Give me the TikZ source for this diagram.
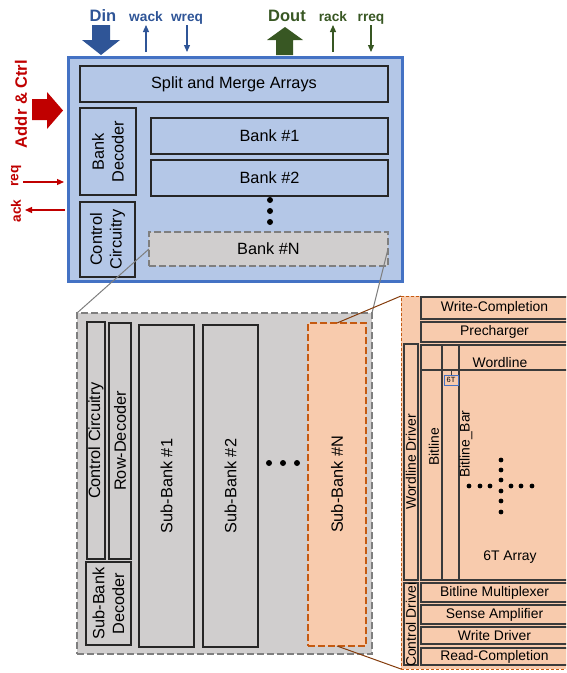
\documentclass[tikz,border=0pt]{standalone}
\usepackage{fontspec}
\setmainfont{Liberation Sans}
\usetikzlibrary{arrows.meta,positioning,calc}
\definecolor{memblue}{HTML}{4472C4}
\definecolor{memfill}{HTML}{B4C7E7}
\definecolor{memgray}{HTML}{D0CECE}
\definecolor{memdash}{HTML}{7F7F7F}
\definecolor{memorange}{HTML}{F8CBAD}
\definecolor{memrust}{HTML}{C55A11}
\definecolor{membrown}{HTML}{843C0C}
\definecolor{memline}{HTML}{262626}
\definecolor{cellline}{HTML}{3A3A3A}
\definecolor{sigblue}{HTML}{2F5597}
\definecolor{siggreen}{HTML}{385723}
\definecolor{sigred}{HTML}{C00000}
\newcommand{\fntbox}{\fontsize{16.3}{19.8}\selectfont}
\newcommand{\fntcell}{\fontsize{13.9}{16}\selectfont}
\newcommand{\fntsig}{\fontsize{13.7}{16}\selectfont\bfseries}
\newcommand{\fntbig}{\fontsize{16.5}{19}\selectfont\bfseries}

\begin{document}
\begin{tikzpicture}[x=1pt,y=-1pt, every node/.style={inner sep=0pt,outer sep=0pt,align=center}]
\tikzset{topbox/.style={draw=memblue,line width=3pt,fill=memfill,anchor=north west},
  tblk/.style={draw=memline,line width=1.5pt,fill=memfill,anchor=north west,font=\fntbox},
  gblk/.style={draw=memline,line width=1.5pt,fill=memgray,anchor=north west,font=\fntbox},
  gdash/.style={draw=memdash,line width=2.2pt,dash pattern=on 7pt off 3pt,fill=memgray,anchor=north west,font=\fntbox},
  odash/.style={draw=memrust,line width=2.5pt,dash pattern=on 7pt off 3pt,fill=memorange,anchor=north west,font=\fntbox},
  panel/.style={draw=memrust,line width=1pt,dash pattern=on 3pt off 2pt,fill=memorange,anchor=north west},
  cblk/.style={draw=cellline,line width=1.3pt,fill=memorange,anchor=north west,font=\fntcell},
  vlabel/.style={rotate=90},
  sigtip/.style={-{Triangle[length=7pt,width=6pt]},line width=1.2pt},
  zoomline/.style={line width=1pt}}
\useasboundingbox (0,0) rectangle (566,673);
\clip (0,0) rectangle (566,673);

% memory top level
\node[topbox,minimum width=334,minimum height=224] (mem) at (68,57) {};
\node[tblk,minimum width=308,minimum height=36] (split) at (80,66) {Split and Merge Arrays};
\node[tblk,minimum width=56,minimum height=87] (bankdec) at (80,108) {};
\node[vlabel,font=\fntbox] (bankdect) at (bankdec.center) {Bank\\Decoder};
\node[tblk,minimum width=55,minimum height=75] (ctrl) at (80,202) {};
\node[vlabel,font=\fntbox] (ctrlt) at (ctrl.center) {Control\\Circuitry};
\node[tblk,minimum width=237,minimum height=36] (bank1) at (151,118) {Bank \#1};
\node[tblk,minimum width=237,minimum height=36] (bank2) at (151,160) {Bank \#2};
\foreach \y in {200,211,222} \fill (270,\y) circle[radius=3pt];
\node[gdash,minimum width=239,minimum height=34] (bankN) at (149,232) {Bank \#N};

% signals
\node[font=\fntbig,text=sigblue,anchor=base] (din) at (103,21) {Din};
\node[font=\fntsig,text=sigblue,anchor=base] (wack) at (146,21) {wack};
\node[font=\fntsig,text=sigblue,anchor=base] (wreq) at (187,21) {wreq};
\node[font=\fntbig,text=siggreen,anchor=base] (dout) at (287,21) {Dout};
\node[font=\fntsig,text=siggreen,anchor=base] (rack) at (333,21) {rack};
\node[font=\fntsig,text=siggreen,anchor=base] (rreq) at (371,21) {rreq};
\node[font=\fntbig,text=sigred,vlabel] (addr) at (21,104) {Addr \& Ctrl};
\node[font=\fntsig,text=sigred,vlabel] (req) at (16,176) {req};
\node[font=\fntsig,text=sigred,vlabel] (ack) at (16,211) {ack};
\fill[sigblue] (92,25) -- (110,25) -- (110,40) -- (120,40) -- (101,55) -- (82,40) -- (92,40) -- cycle;
\fill[siggreen] (276,55) -- (293,55) -- (293,40) -- (303,40) -- (285,27) -- (267,40) -- (276,40) -- cycle;
\fill[sigred] (32,99) -- (47,99) -- (47,92) -- (63,110.5) -- (47,129) -- (47,120) -- (32,120) -- cycle;
\draw[sigtip,sigblue] ([yshift=5pt]mem.north -| wack) -- ([yshift=-4pt]wack.base);
\draw[sigtip,sigblue] ([yshift=-4pt]wreq.base) -- ([yshift=5pt]mem.north -| wreq);
\draw[sigtip,siggreen] ([yshift=5pt]mem.north -| rack) -- ([yshift=-4pt]rack.base);
\draw[sigtip,siggreen] ([yshift=-4pt]rreq.base) -- ([yshift=5pt]mem.north -| rreq);
\coordinate (reqin) at (23,182);
\coordinate (ackout) at (25,210);
\draw[sigtip,sigred] (reqin) -- ([xshift=-4pt]mem.west |- reqin);
\draw[sigtip,sigred] ([xshift=-3pt]mem.west |- ackout) -- (ackout);

% bank level
\node[gdash,minimum width=295,minimum height=341] (lowbox) at (77,313) {};
\node[gblk,minimum width=18,minimum height=237] (lctrl) at (87,322) {};
\node[vlabel,font=\fntbox] (lctrlt) at (lctrl.center) {Control Circuitry};
\node[gblk,minimum width=22,minimum height=236] (rowdec) at (109,323) {};
\node[vlabel,font=\fntbox] (rowdect) at (rowdec.center) {Row-Decoder};
\node[gblk,minimum width=45,minimum height=83] (sbdec) at (86,562) {};
\node[vlabel,font=\fntbox] (sbdect) at (sbdec.center) {Sub-Bank\\Decoder};
\node[gblk,minimum width=55,minimum height=322] (sb1) at (139,325) {};
\node[vlabel,font=\fntbox] (sb1t) at (sb1.center) {Sub-Bank \#1};
\node[gblk,minimum width=55,minimum height=322] (sb2) at (203,325) {};
\node[vlabel,font=\fntbox] (sb2t) at (sb2.center) {Sub-Bank \#2};
\foreach \x in {269,283,297} \fill (\x,463) circle[radius=3pt];
\node[odash,minimum width=58,minimum height=323] (sbN) at (308,323) {};
\node[vlabel,font=\fntbox] (sbNt) at (sbN.center) {Sub-Bank \#N};

% sub-bank level
\node[panel,minimum width=180,minimum height=373] (panel) at (401,296) {};
\node[cblk,minimum width=147,minimum height=22] (wcomp) at (421,297) {Write-Completion};
\node[cblk,minimum width=147,minimum height=20] (prech) at (421,322) {Precharger};
\node[cblk,minimum width=14,minimum height=236] (wldrv) at (404,344) {};
\node[vlabel,font=\fntcell] (wldrvt) at (wldrv.center) {Wordline Driver};
\node[cblk,minimum width=147,minimum height=235] (array) at (421,345) {};
\draw[cellline,line width=1.3pt] (421,370) -- (568,370);
\draw[cellline,line width=1.3pt] (442,345) -- (442,580);
\draw[cellline,line width=1.3pt] (459,345) -- (459,580);
\node[font=\fntcell,anchor=base] (wordline) at (500,367) {Wordline};
\node[draw=memblue,line width=1pt,minimum width=14,minimum height=10,font=\fontsize{7.5}{8}\selectfont] (sixT) at (451,380) {6T};
\draw[cellline,line width=0.6pt] (sixT.north) -- ++(0,-5);
\node[vlabel,font=\fntcell] (bitline) at (434,447) {Bitline};
\node[vlabel,font=\fntcell] (bitbar) at (466,444) {Bitline\_Bar};
\foreach \y in {460,470,480,491,501,512} \fill (501,\y) circle[radius=2.4pt];
\foreach \x in {469,480,490,511,521,532} \fill (\x,486) circle[radius=2.4pt];
\node[font=\fntcell] (arrayt) at (510,557) {6T Array};
\node[cblk,minimum width=147,minimum height=19] (bmux) at (421,583) {Bitline Multiplexer};
\node[cblk,minimum width=147,minimum height=19] (samp) at (421,605) {Sense Amplifier};
\node[cblk,minimum width=147,minimum height=17] (wdrv) at (421,627) {Write Driver};
\node[cblk,minimum width=147,minimum height=17] (rcomp) at (421,648) {Read-Completion};
\node[cblk,minimum width=14,minimum height=82] (cdrv) at (404,583) {};
\begin{scope}
\clip (cdrv.south west) rectangle (cdrv.north east);
\node[vlabel,font=\fntcell] (cdrvt) at (cdrv.center) {Control Driver};
\end{scope}

% zoom connectors
\draw[zoomline,memdash] (bankN.west) -- (lowbox.north west);
\draw[zoomline,memdash] (bankN.east) -- (lowbox.north east);
\draw[zoomline,membrown] (sbN.north) -- (panel.north west);
\draw[zoomline,membrown] (sbN.south) -- (panel.south west);
\end{tikzpicture}
\end{document}
